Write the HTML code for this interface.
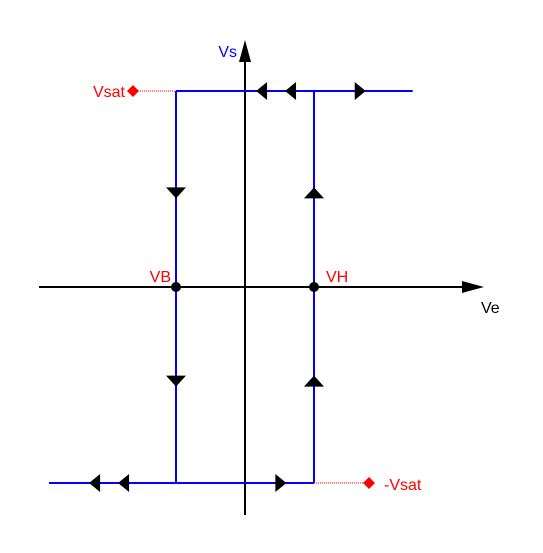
<!DOCTYPE html>
<html><head><meta charset="utf-8"><style>
html,body{margin:0;padding:0;background:#fff;}
svg{display:block;font-family:"Liberation Sans",sans-serif;}
</style></head><body>
<svg id="c" width="543" height="553" viewBox="0 0 543 553">
<g id="g"></g>
</svg>
<script>
// data (in data units)
const thresholds = [-1, 1];          // VB, VH
const satLevels = [1, -1];           // Vsat, -Vsat
const upperEnd = 2.43;
const lowerStart = -2.84;
const topArrows = [{x:0.24,d:-1},{x:0.66,d:-1},{x:1.67,d:1}];
const bottomArrows = [{x:-2.18,d:-1},{x:-1.76,d:-1},{x:0.52,d:1}];
const sideArrowY = [0.48, -0.48];
const labels = ["VB","VH","Vsat","-Vsat","Vs","Ve"];

const x0=245, y0=287, sx=69, sy=196;
const X=v=>x0+v*sx, Y=v=>y0-v*sy;
const g=document.getElementById('g');
const NS='http://www.w3.org/2000/svg';
function el(t,a,name){const e=document.createElementNS(NS,t);for(const k in a)e.setAttribute(k,a[k]);


g.appendChild(e);return e;}
function tri(cx,cy,dir,name){
 let p;
 if(dir==='l')p=[[cx-5.5,cy],[cx+5.5,cy-9],[cx+5.5,cy+9]];
 if(dir==='r')p=[[cx+5.5,cy],[cx-5.5,cy-9],[cx-5.5,cy+9]];
 if(dir==='d')p=[[cx,cy+5.5],[cx-10,cy-5.5],[cx+10,cy-5.5]];
 if(dir==='u')p=[[cx,cy-5.5],[cx-10,cy+5.5],[cx+10,cy+5.5]];
 el('polygon',{points:p.map(q=>q.join(',')).join(' '),fill:'#000'},name);
}
el('line',{x1:39,y1:y0,x2:470,y2:y0,stroke:'#000','stroke-width':2},'x-axis');
el('polygon',{points:`484,${y0} 462,${y0-6} 462,${y0+6}`,fill:'#000'},'x-axis-arrow');
el('line',{x1:x0,y1:515,x2:x0,y2:55,stroke:'#000','stroke-width':2},'y-axis');
el('polygon',{points:`${x0},40 ${x0-6},62 ${x0+6},62`,fill:'#000'},'y-axis-arrow');
const yT=Y(satLevels[0]), yB=Y(satLevels[1]), xB=X(thresholds[0]), xH=X(thresholds[1]);
const blue={stroke:'#0000ff','stroke-width':2,fill:'none'};
el('line',Object.assign({x1:xB,y1:yT,x2:X(upperEnd),y2:yT},blue),'upper-saturation-line');
el('line',Object.assign({x1:X(lowerStart),y1:yB,x2:xH,y2:yB},blue),'lower-saturation-line');
el('line',Object.assign({x1:xB,y1:yT,x2:xB,y2:yB},blue),'vb-transition-line');
el('line',Object.assign({x1:xH,y1:yT,x2:xH,y2:yB},blue),'vh-transition-line');
topArrows.forEach(a=>tri(X(a.x),yT,a.d<0?'l':'r','top-direction-arrow'));
bottomArrows.forEach(a=>tri(X(a.x),yB,a.d<0?'l':'r','bottom-direction-arrow'));
sideArrowY.forEach(v=>{tri(xB,Y(v),'d','vb-down-arrow');tri(xH,Y(v),'u','vh-up-arrow');});
el('circle',{cx:xB,cy:y0,r:5,fill:'#000'},'vb-point');
el('circle',{cx:xH,cy:y0,r:5,fill:'#000'},'vh-point');
el('line',{x1:138,y1:yT,x2:xB,y2:yT,stroke:'#ff0000','stroke-width':1,'stroke-dasharray':'1,1'},'vsat-dotted-line');
el('polygon',{points:`133,${yT-6} 139,${yT} 133,${yT+6} 127,${yT}`,fill:'#ff0000'},'vsat-marker');
el('line',{x1:xH,y1:yB,x2:364,y2:yB,stroke:'#ff0000','stroke-width':1,'stroke-dasharray':'1,1'},'neg-vsat-dotted-line');
el('polygon',{points:`369,${yB-6} 375,${yB} 369,${yB+6} 363,${yB}`,fill:'#ff0000'},'neg-vsat-marker');
function txt(x,y,s,c,name,anchor){const t=el('text',{x:x,y:y,fill:c,'font-size':16,'text-anchor':anchor||'start'},name);t.textContent=s;}
txt(171,282,labels[0],'#ff0000','vb-label','end');
txt(326,282,labels[1],'#ff0000','vh-label');
txt(125,97,labels[2],'#ff0000','vsat-label','end');
txt(384,490,labels[3],'#ff0000','neg-vsat-label');
txt(237,57,labels[4],'#0000ff','y-axis-title','end');
txt(481,313,labels[5],'#000','x-axis-title');
</script>
</body></html>
